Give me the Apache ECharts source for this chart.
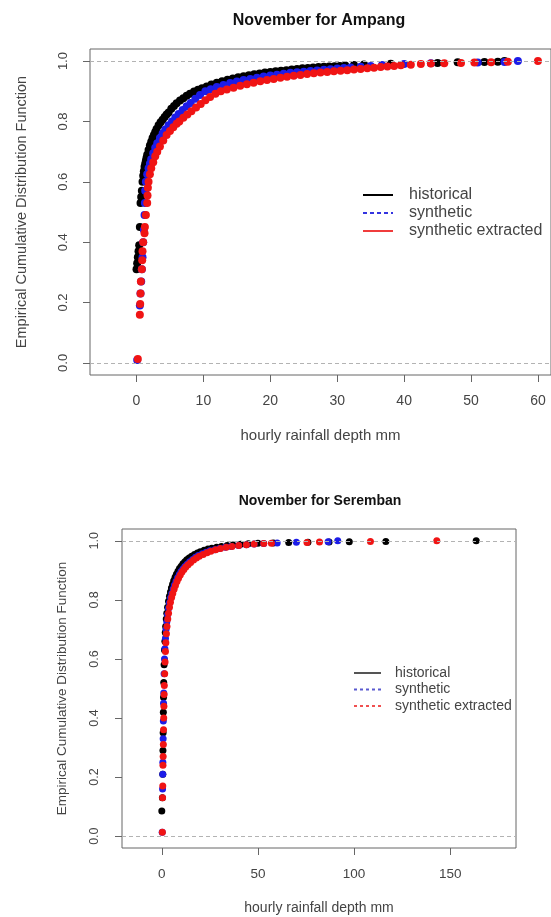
<!DOCTYPE html>
<html><head><meta charset="utf-8">
<script src="https://cdn.jsdelivr.net/npm/echarts@6/dist/echarts.min.js"></script>
<style>html,body{margin:0;padding:0;background:#fff}#c{width:551px;height:917px}</style>
</head><body><div id="c"></div>
<script>
// ---- Panel titles and labels ----
const titles = ['November for Ampang', 'November for Seremban'];
const legendNames = ['historical', 'synthetic', 'synthetic extracted'];
const xTitle = 'hourly rainfall depth mm';
const yTitle = 'Empirical Cumulative Distribution Function';
const xTicksAmpang = [0, 10, 20, 30, 40, 50, 60];
const xTicksSeremban = [0, 50, 100, 150];
const yTicks = [0, 0.2, 0.4, 0.6, 0.8, 1.0];

// ---- Ampang (top) ECDF points: rainfall x and cumulative F ----
const ampHistX = [0,0.1,0.2,0.3,0.4,0.5,0.6,0.7,0.8,0.9,1.0,1.1,1.2,1.3,1.4,1.5,1.6,1.8,2.0,2.2,2.4,2.6,2.8,3.0,3.3,3.6,3.9,4.2,4.5,4.8,5.2,5.6,6.0,6.5,7.0,7.5,8.0,8.6,9.2,9.8,10.5,11.2,12.0,12.8,13.6,14.4,15.2,16.0,16.8,17.6,18.4,19.2,20.0,20.8,21.6,22.4,23.2,24.0,24.8,25.6,26.4,27.2,28.0,28.8,29.6,30.4,31.2,32.5,34.0,38.0,45.0,48.0,52.0,54.0,55.0];
const ampHistF = [0.31,0.33,0.35,0.37,0.39,0.45,0.53,0.55,0.57,0.60,0.62,0.635,0.65,0.66,0.67,0.68,0.69,0.705,0.72,0.733,0.745,0.755,0.765,0.775,0.787,0.797,0.806,0.815,0.823,0.83,0.842,0.851,0.86,0.869,0.877,0.885,0.892,0.899,0.905,0.91,0.916,0.922,0.928,0.933,0.938,0.942,0.946,0.95,0.953,0.956,0.959,0.962,0.964,0.966,0.968,0.970,0.972,0.974,0.976,0.977,0.979,0.980,0.981,0.982,0.983,0.984,0.985,0.987,0.989,0.991,0.994,0.996,0.997,0.998,1.0];
const ampSynX = [0.1,0.5,0.6,0.7,0.8,0.9,1.0,1.1,1.2,1.25,1.3,1.4,1.6,1.8,2.0,2.2,2.5,2.8,3.1,3.5,3.9,4.3,4.8,5.3,5.8,6.3,6.9,7.5,8.1,8.8,9.5,10.3,11.1,12.0,13.0,14.0,15.0,16.0,17.0,18.0,19.0,20.0,21.0,22.0,23.0,24.0,25.0,26.0,27.0,28.0,29.0,30.0,31.0,32.0,33.5,35.0,36.7,40.0,44.0,51.0,55.0,57.0];
const ampSynF = [0.01,0.19,0.23,0.27,0.31,0.35,0.40,0.44,0.49,0.53,0.57,0.60,0.625,0.645,0.66,0.675,0.695,0.713,0.728,0.745,0.76,0.773,0.787,0.80,0.813,0.825,0.838,0.85,0.861,0.875,0.888,0.90,0.907,0.914,0.921,0.927,0.932,0.937,0.941,0.945,0.949,0.952,0.955,0.958,0.961,0.963,0.965,0.967,0.969,0.971,0.973,0.975,0.977,0.979,0.981,0.984,0.987,0.99,0.993,0.995,0.997,1.0];
const ampExtX = [0.2,0.5,0.55,0.6,0.65,0.8,0.85,0.9,1.0,1.2,1.25,1.4,1.6,1.65,1.7,1.8,2.0,2.2,2.5,2.8,3.1,3.5,4.0,4.5,5.0,5.5,6.0,6.4,7.0,7.6,8.2,8.9,9.6,10.3,11.0,11.8,12.6,13.5,14.5,15.5,16.5,17.5,18.5,19.5,20.5,21.5,22.5,23.5,24.5,25.5,26.5,27.5,28.5,29.5,30.5,31.5,32.5,33.5,34.5,35.5,36.5,37.5,38.5,39.5,41.0,42.5,44.0,46.0,48.5,50.5,53.0,55.5,60.0];
const ampExtF = [0.013,0.16,0.195,0.23,0.27,0.31,0.34,0.37,0.40,0.43,0.45,0.49,0.53,0.555,0.58,0.60,0.625,0.645,0.665,0.685,0.70,0.717,0.737,0.755,0.768,0.781,0.792,0.80,0.812,0.823,0.834,0.846,0.858,0.87,0.881,0.892,0.90,0.906,0.912,0.918,0.923,0.928,0.933,0.937,0.941,0.945,0.948,0.951,0.954,0.957,0.96,0.962,0.964,0.966,0.968,0.970,0.972,0.974,0.976,0.978,0.98,0.982,0.984,0.986,0.988,0.99,0.992,0.993,0.994,0.995,0.996,0.998,1.0];

// ---- Seremban (bottom) ECDF points ----
const serHistX = [0.0,0.3,0.5,0.6,0.7,0.8,0.9,1.0,1.2,1.4,1.6,1.8,2.0,2.3,2.6,3.0,3.5,4.0,4.5,5.0,5.6,6.2,6.9,7.6,8.4,9.2,10.1,11.0,12.0,13.0,14.2,15.5,17.0,18.5,20.0,22.0,24.0,26.0,28.5,31.0,34.0,37.0,41.0,45.0,50.0,58.0,66.0,76.0,87.0,97.5,116.5,163.5];
const serHistF = [0.085,0.13,0.21,0.29,0.35,0.42,0.47,0.52,0.58,0.63,0.66,0.69,0.71,0.735,0.755,0.775,0.795,0.812,0.827,0.84,0.853,0.865,0.877,0.887,0.897,0.906,0.914,0.922,0.929,0.936,0.942,0.948,0.954,0.959,0.963,0.968,0.972,0.975,0.978,0.981,0.984,0.986,0.988,0.99,0.992,0.993,0.994,0.995,0.996,0.997,0.998,1.0];
const serSynX = [0.2,0.4,0.5,0.55,0.7,0.8,0.9,1.0,1.2,1.4,1.6,1.9,2.2,2.6,3.0,3.5,4.0,4.6,5.2,5.9,6.6,7.4,8.2,9.1,10.0,11.0,12.0,13.2,14.5,16.0,17.5,19.0,21.0,23.0,25.0,27.5,30.0,33.0,36.0,40.0,44.0,48.0,53.0,60.0,70.0,86.5,91.5];
const serSynF = [0.013,0.16,0.21,0.25,0.33,0.39,0.45,0.485,0.55,0.60,0.635,0.67,0.70,0.725,0.75,0.772,0.79,0.807,0.822,0.837,0.85,0.863,0.875,0.886,0.896,0.905,0.913,0.921,0.929,0.937,0.944,0.95,0.956,0.961,0.966,0.97,0.974,0.978,0.981,0.984,0.987,0.989,0.991,0.993,0.995,0.997,1.0];
const serExtX = [0.3,0.4,0.5,0.6,0.7,0.8,0.9,1.0,1.1,1.2,1.3,1.5,1.7,1.9,2.1,2.4,2.7,3.1,3.5,4.0,4.5,5.1,5.7,6.4,7.1,7.9,8.7,9.6,10.5,11.5,12.5,13.7,15.0,16.5,18.0,19.5,21.5,23.5,25.5,28.0,30.5,33.5,36.5,40.0,44.0,48.0,53.0,57.0,75.5,82.0,108.5,143.0];
const serExtF = [0.013,0.13,0.17,0.24,0.27,0.31,0.36,0.40,0.44,0.48,0.51,0.55,0.59,0.625,0.655,0.685,0.71,0.735,0.755,0.775,0.792,0.808,0.822,0.836,0.849,0.862,0.873,0.884,0.894,0.903,0.911,0.919,0.927,0.935,0.942,0.948,0.954,0.96,0.965,0.97,0.974,0.978,0.981,0.984,0.987,0.989,0.991,0.992,0.994,0.996,0.998,1.0];

// ---- styling ----
const colors = ['#000000', '#1c1ce8', '#f01414'];
const FONT = 'Liberation Sans, Arial, sans-serif';
const TXT = '#444444';

function zip(xs, fs) { const n = Math.min(xs.length, fs.length); const out = []; for (let i = 0; i < n; i++) out.push([xs[i], fs[i]]); return out; }

function ecdfSeries(name, xs, fs, color, gi, size) {
  return {
    name: name, type: 'scatter', xAxisIndex: gi, yAxisIndex: gi,
    data: zip(xs, fs), symbol: 'circle', symbolSize: size,
    itemStyle: { color: color, opacity: 1 },
    emphasis: { disabled: true }, animation: false
  };
}
function legendSeries(name, color, type, gi) {
  return { name: name, type: 'line', data: [], xAxisIndex: gi, yAxisIndex: gi, symbol: 'none', showSymbol: false,
    itemStyle: { color: color }, lineStyle: { color: color, width: 1.2, type: type } };
}
const refLines = {
  silent: true, symbol: ['none', 'none'], label: { show: false },
  lineStyle: { type: [4, 3], color: '#b3b3b3', width: 1 },
  data: [{ yAxis: 0 }, { yAxis: 1 }]
};

function xAxisCfg(gi, min, max, ticks, fs, nfs, margin, gap) {
  return {
    gridIndex: gi, type: 'value', min: min, max: max,
    splitLine: { show: false }, axisLine: { show: false, onZero: false },
    axisTick: { show: true, customValues: ticks, length: 7, lineStyle: { color: '#666' } },
    axisLabel: { customValues: ticks, margin: margin, fontSize: fs, color: TXT, fontFamily: FONT },
    name: xTitle, nameLocation: 'middle', nameGap: gap,
    nameTextStyle: { fontSize: nfs, color: TXT, fontFamily: FONT }
  };
}
function yAxisCfg(gi, fs, nfs, margin, gap) {
  return {
    gridIndex: gi, type: 'value', min: -0.04, max: 1.04,
    splitLine: { show: false }, axisLine: { show: false, onZero: false },
    axisTick: { show: true, customValues: yTicks, length: 7, lineStyle: { color: '#666' } },
    axisLabel: { customValues: yTicks, rotate: 90, margin: margin, fontSize: fs, color: TXT, fontFamily: FONT,
      formatter: v => v.toFixed(1) },
    name: yTitle, nameLocation: 'middle', nameGap: gap,
    nameTextStyle: { fontSize: nfs, color: TXT, fontFamily: FONT }
  };
}

const chart = echarts.init(document.getElementById('c'), null, { renderer: 'canvas' });
const series = [
  legendSeries('historical', '#000000', 'solid', 0),
  legendSeries('synthetic', '#3434e0', [4, 3], 0),
  legendSeries('synthetic extracted', '#f03c3c', 'solid', 0),
  legendSeries('S:historical', '#555555', 'solid', 1),
  legendSeries('S:synthetic', '#5a5ad0', [3, 3], 1),
  legendSeries('S:synthetic extracted', '#f05050', [3, 3], 1),
  Object.assign(ecdfSeries('Ampang historical', ampHistX, ampHistF, colors[0], 0, 8), { markLine: refLines }),
  ecdfSeries('Ampang synthetic', ampSynX, ampSynF, colors[1], 0, 8),
  ecdfSeries('Ampang synthetic extracted', ampExtX, ampExtF, colors[2], 0, 8),
  Object.assign(ecdfSeries('Seremban historical', serHistX, serHistF, colors[0], 1, 7), { markLine: refLines }),
  ecdfSeries('Seremban synthetic', serSynX, serSynF, colors[1], 1, 7),
  ecdfSeries('Seremban synthetic extracted', serExtX, serExtF, colors[2], 1, 7)
];

chart.setOption({
  animation: false,
  backgroundColor: '#ffffff',
  textStyle: { fontFamily: FONT },
  title: [
    { text: titles[0], left: 314, top: 8, textAlign: 'center',
      textStyle: { fontFamily: FONT, fontWeight: 'bold', fontSize: 16, color: '#111' } },
    { text: titles[1], left: 315, top: 489, textAlign: 'center',
      textStyle: { fontFamily: FONT, fontWeight: 'bold', fontSize: 14, color: '#111' } }
  ],
  grid: [
    { left: 90, top: 49, width: 467, height: 326, show: true, borderColor: '#666', borderWidth: 1, backgroundColor: 'transparent' },
    { left: 122, top: 529, width: 394, height: 319, show: true, borderColor: '#666', borderWidth: 1, backgroundColor: 'transparent' }
  ],
  xAxis: [
    xAxisCfg(0, -6.95, 61.95, xTicksAmpang, 14, 15, 19, 53),
    xAxisCfg(1, -20.7, 184.2, xTicksSeremban, 13.5, 14, 19, 53)
  ],
  yAxis: [
    yAxisCfg(0, 13, 14.5, 20, 61),
    yAxisCfg(1, 12.5, 13.5, 21, 53)
  ],
  legend: [
    { data: legendNames, orient: 'vertical', left: 362, top: 187, padding: 0, itemWidth: 30, itemHeight: 14, itemGap: 2,
      selectedMode: false, itemStyle: { opacity: 0 },
      textStyle: { fontSize: 16, lineHeight: 16, color: TXT, fontFamily: FONT, padding: [0, 0, 0, 11] } },
    { data: legendNames.map(n => 'S:' + n), formatter: n => n.slice(2), orient: 'vertical', left: 353, top: 666, padding: 0,
      itemWidth: 27, itemHeight: 12, itemGap: 2.5, selectedMode: false, itemStyle: { opacity: 0 },
      textStyle: { fontSize: 14, lineHeight: 14, color: TXT, fontFamily: FONT, padding: [0, 0, 0, 9] } }
  ],
  series: series
});
</script></body></html>
